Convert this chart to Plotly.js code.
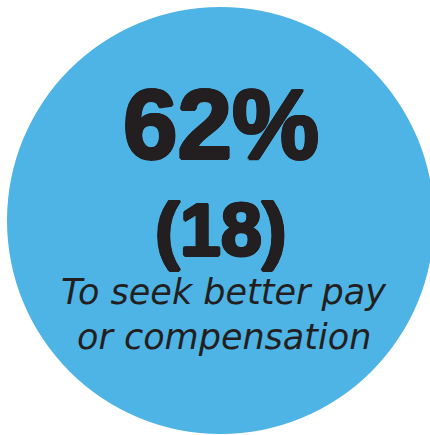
<!DOCTYPE html>
<html>
<head>
<meta charset="utf-8">
<script src="https://cdn.plot.ly/plotly-3.0.1.min.js"></script>
<style>html,body{margin:0;padding:0;background:#fff;}#chart{width:430px;height:435px;}</style>
</head>
<body>
<div id="chart"></div>
<script>
const percentValues = [62];
const countValues = [18];
const labelLines = ["To seek better pay", "or compensation"];
const circleCenter = [220.5, 220.5];
const circleRadius = [213.5];

const cx = circleCenter[0], cy = circleCenter[1], r = circleRadius[0];
const dark = '#231F20';
const thick = '1.5px 0 0 #231F20, -1.5px 0 0 #231F20, 0 1.5px 0 #231F20, 0 -1.5px 0 #231F20, 1px 1px 0 #231F20, -1px -1px 0 #231F20, 1px -1px 0 #231F20, -1px 1px 0 #231F20';

const layout = {
  width: 430, height: 435,
  margin: {l: 0, r: 0, t: 0, b: 0},
  paper_bgcolor: '#ffffff', plot_bgcolor: '#ffffff',
  showlegend: false,
  xaxis: {range: [0, 430], visible: false, fixedrange: true},
  yaxis: {range: [435, 0], visible: false, fixedrange: true},
  shapes: [{
    type: 'circle', xref: 'x', yref: 'y',
    x0: cx - r, x1: cx + r, y0: cy - r, y1: cy + r,
    fillcolor: '#4EB3E5', line: {width: 0}, layer: 'below'
  }],
  annotations: [
    {x: 221, y: 124, xref: 'x', yref: 'y', text: percentValues[0] + '%', showarrow: false,
     xanchor: 'center', yanchor: 'middle',
     font: {family: '"Liberation Sans", Arial, sans-serif', size: 98, weight: 700, color: dark, shadow: thick}},
    {x: 221, y: 229, xref: 'x', yref: 'y', text: '(' + countValues[0] + ')', showarrow: false,
     xanchor: 'center', yanchor: 'middle',
     font: {family: '"Liberation Sans", Arial, sans-serif', size: 74, weight: 700, color: dark, shadow: thick}},
    {x: 224, y: 292, xref: 'x', yref: 'y', text: labelLines[0], showarrow: false,
     xanchor: 'center', yanchor: 'middle',
     font: {family: '"DejaVu Sans", sans-serif', size: 35, style: 'italic', weight: 400, color: dark}},
    {x: 224, y: 337, xref: 'x', yref: 'y', text: labelLines[1], showarrow: false,
     xanchor: 'center', yanchor: 'middle',
     font: {family: '"DejaVu Sans", sans-serif', size: 35, style: 'italic', weight: 400, color: dark}}
  ]
};

Plotly.newPlot('chart', [], layout, {staticPlot: true, displayModeBar: false});
</script>
</body>
</html>
